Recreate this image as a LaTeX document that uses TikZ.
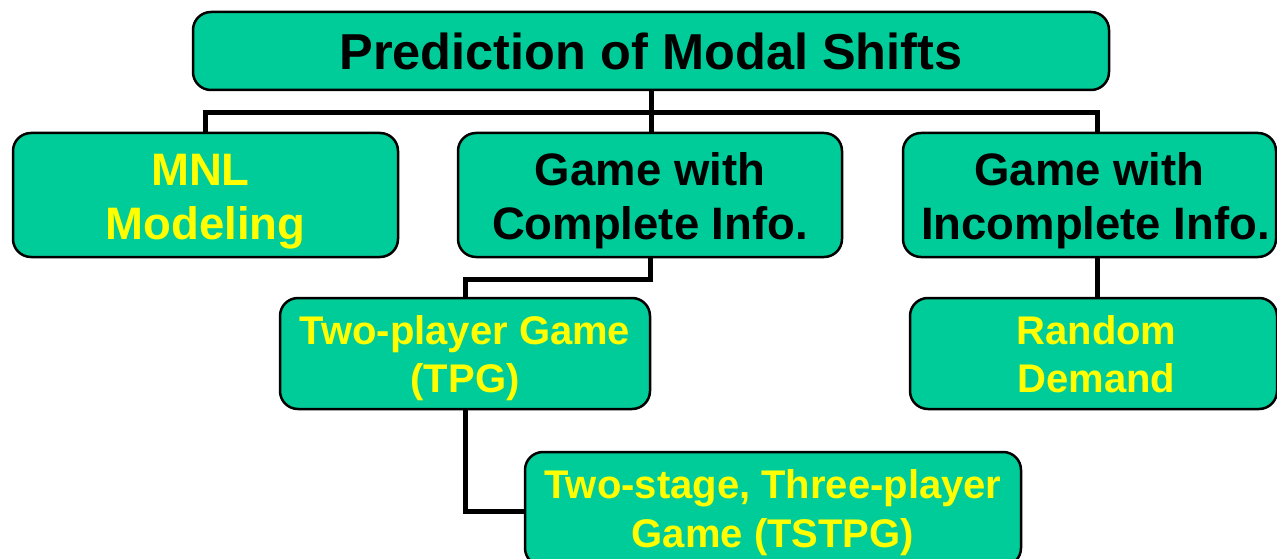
\documentclass[tikz,border=0pt]{standalone}
\usepackage{fontspec}
\setmainfont{Liberation Sans}
\usetikzlibrary{backgrounds}
\definecolor{boxfill}{RGB}{0,204,153}
\definecolor{ylw}{RGB}{255,255,0}
% two lines with fixed top height (#3) and bottom depth (#4)
\newcommand{\twolines}[4]{\rule{0pt}{#3pt}#1\\\raisebox{0pt}[\height][0pt]{#2}\rule[-#4pt]{0pt}{#4pt}}
\tikzset{
  box/.style={draw=black, line width=2.5pt, fill=boxfill, rounded corners=18pt,
    inner sep=0pt, align=center},
  lvla/.style={font=\bfseries\fontsize{50.5}{60}\selectfont},
  lvlb/.style={font=\bfseries\fontsize{45.5}{54}\selectfont},
  lvlc/.style={font=\bfseries\fontsize{40}{48}\selectfont},
  lvld/.style={font=\bfseries\fontsize{40}{49}\selectfont},
  conn/.style={draw=black, line width=5pt, line join=miter},
}
\begin{document}
\begin{tikzpicture}[x=1pt,y=-1pt]
\useasboundingbox (0,0) rectangle (1277,559);
\node[box, lvla, minimum width=916pt, minimum height=78pt] (top) at (651,51) {Prediction of Modal Shifts};
\node[box, lvlb, text=ylw, minimum width=385pt, minimum height=124pt] (mnl) at (205.5,195)
  {\twolines{MNL\hspace*{10pt}}{Modeling}{34}{0}};
\node[box, lvlb, minimum width=384pt, minimum height=124pt] (cpl) at (650,195)
  {\twolines{Game with}{Complete Info.}{34}{0}};
\node[box, lvlb, minimum width=373pt, minimum height=124pt] (inc) at (1089.5,195)
  {\twolines{Game with}{\hspace*{12pt}Incomplete Info.}{34}{0}};
\node[box, lvlc, text=ylw, minimum width=370pt, minimum height=111pt] (tpg) at (465,353.5)
  {\twolines{Two-player Game}{(TPG)}{31}{2}};
\node[box, lvlc, text=ylw, minimum width=367pt, minimum height=111pt] (rnd) at (1093.5,353.5)
  {\twolines{\hspace*{6pt}Random}{\hspace*{6pt}Demand}{31}{2}};
\node[box, lvld, text=ylw, minimum width=496pt, minimum height=114pt] (tst) at (773,509)
  {\twolines{Two-stage, Three-player}{Game (TSTPG)}{31}{4}};
\coordinate (bus) at (651,113);
\coordinate (incx) at (1097,0);
\begin{scope}[on background layer]
\draw[conn] (mnl.north) -- (mnl.north |- bus) -- (incx |- bus) -- (incx |- inc.north);
\draw[conn] (top.south) -- (top.south |- cpl.north);
\draw[conn] (cpl.south) -- ++(0,21) -| (tpg.north);
\draw[conn] (incx |- inc.south) -- (incx |- rnd.north);
\draw[conn] (tpg.south) |- ([yshift=-2pt]tst.west);
\end{scope}
\end{tikzpicture}
\end{document}
